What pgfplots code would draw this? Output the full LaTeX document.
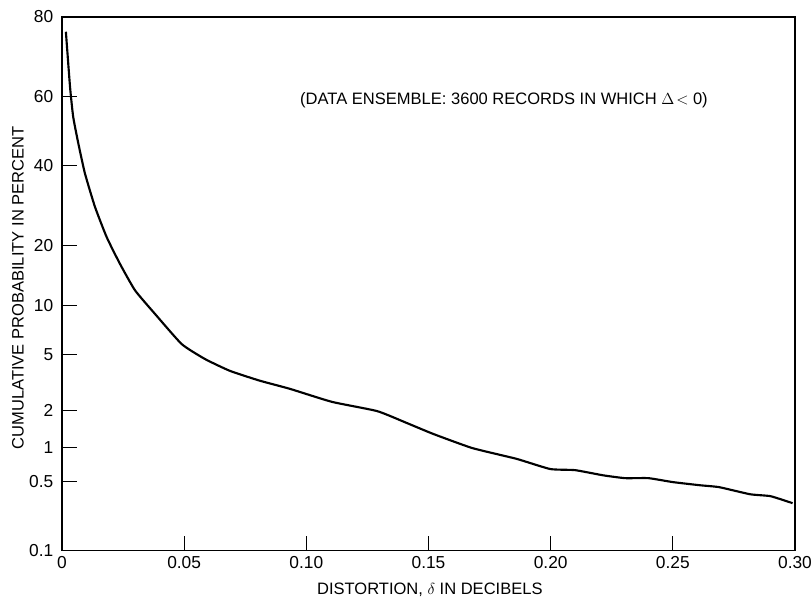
\documentclass[border=0pt]{standalone}
\usepackage{pgfplots}
\pgfplotsset{compat=1.18}
\usepackage{fontspec}
\setmainfont{Liberation Sans}
\begin{document}
\begin{tikzpicture}
\begin{axis}[
  name=ax,
  scale only axis,
  width=550pt, height=400.5pt,
  xmin=0, xmax=0.30, ymin=0.1, ymax=80,
  y coord trafo/.code={%
    \pgfmathparse{max(min(#1,100-#1)/100,0.0001)}\let\myp\pgfmathresult
    \pgfmathparse{sqrt(-2*ln(\myp))}\let\myt\pgfmathresult
    \pgfmathparse{\myt-(2.515517+0.802853*\myt+0.010328*\myt*\myt)/(1+1.432788*\myt+0.189269*\myt*\myt+0.001308*\myt*\myt*\myt)}\let\myz\pgfmathresult
    \pgfmathparse{(#1<50)?(-\myz):(\myz)}%
  },
  ytick={0.1,0.5,1,2,5,10,20,40,60,80},
  yticklabels={0.1,0.5,1,2,5,10,20,40,60,80},
  xtick={0,0.05,0.10,0.15,0.20,0.25,0.30},
  xticklabels={0,0.05,0.10,0.15,0.20,0.25,0.30},
  tick align=inside,
  major tick length=11pt,
  xtick pos=bottom, ytick pos=left,
  tick style={black, line width=0.8pt},
  axis line style={line width=1pt},
  ticklabel style={font=\fontsize{13}{15}\selectfont},
  yticklabel style={xshift=-3pt},
  xticklabel style={yshift=-1pt},
  /pgf/number format/assume math mode=true,
  clip=false,
]
\addplot[black, line width=1.6pt, smooth, tension=0.3] coordinates {
(0.0016,76.8) (0.0033,62.8) (0.0046,54.2) (0.0067,46.4) (0.0094,37.8)
(0.0135,28.9) (0.0183,21.8) (0.0237,16.5) (0.0299,12.1) (0.0381,8.95)
(0.049,5.88)
(0.0585,4.7) (0.0688,3.9) (0.081,3.33) (0.0933,2.91) (0.1105,2.33)
(0.129,1.98) (0.141,1.60) (0.152,1.30) (0.168,0.99) (0.186,0.80)
(0.1998,0.65) (0.210,0.635) (0.2215,0.57) (0.2305,0.537) (0.240,0.537)
(0.250,0.494) (0.261,0.462) (0.269,0.443) (0.2816,0.38) (0.290,0.364)
(0.299,0.312)
};
\node[font=\fontsize{12.4}{14}\selectfont, anchor=center] at (axis cs:0.1809,59.1) {(DATA ENSEMBLE: 3600 RECORDS IN WHICH $\Delta\!<$ 0)};
\end{axis}
\node[font=\fontsize{12.4}{14}\selectfont, rotate=90, anchor=center] at ([xshift=-33pt,yshift=-3pt]ax.west) {CUMULATIVE PROBABILITY IN PERCENT};
\node[font=\fontsize{12.4}{14}\selectfont, anchor=center] at ([yshift=-29pt,xshift=1pt]ax.south) {DISTORTION, $\delta$ IN DECIBELS};
\pgfresetboundingbox
\path[use as bounding box] ([xshift=-46.5pt,yshift=-36.75pt]ax.south west) rectangle ([xshift=12pt,yshift=12.75pt]ax.north east);
\end{tikzpicture}
\end{document}
